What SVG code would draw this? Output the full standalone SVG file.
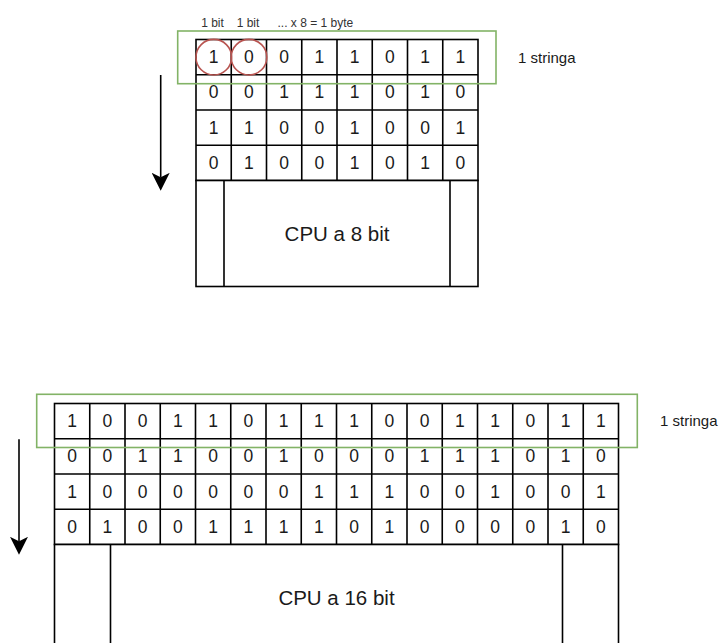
<svg xmlns="http://www.w3.org/2000/svg" width="720" height="643" viewBox="0 0 720 643">
<style>
  text { font-family: "Liberation Sans", Arial, sans-serif; fill: #1a1a1a; }
  .d { font-size: 17.5px; text-anchor: middle; dominant-baseline: central; }
  .cpu { font-size: 20.5px; text-anchor: middle; dominant-baseline: central; }
  .str { font-size: 15px; dominant-baseline: central; }
  .lbl { font-size: 12px; fill: #333; }
  .cell { fill: #fff; stroke: #000; stroke-width: 1.6; }
  .ln { stroke: #000; stroke-width: 1.6; fill: none; }
  .sel { fill: none; stroke: #82b366; stroke-width: 1.6; }
  .bit { fill: none; stroke: #b85450; stroke-width: 1.6; }
  .arr { stroke: #000; stroke-width: 1.6; fill: none; marker-end: url(#ah); }
</style>
<defs>
  <marker id="ah" markerUnits="userSpaceOnUse" markerWidth="18" markerHeight="18" viewBox="0 0 16 16" refX="4" refY="8" orient="auto">
    <path d="M0,0 L16,8 L0,16 L4,8 Z" fill="#000"/>
  </marker>
</defs>

<g id="labels-top">
  <text class="lbl" x="212.5" y="26.5" text-anchor="middle">1 bit</text>
  <text class="lbl" x="248" y="26.5" text-anchor="middle">1 bit</text>
  <text class="lbl" x="277.5" y="26.5">... x 8 = 1 byte</text>
</g>

<g id="mem8">
  <rect class="cell" x="196" y="39.5" width="282" height="141"/>
  <path class="ln" d="M231.25,39.5V180.5M266.5,39.5V180.5M301.75,39.5V180.5M337,39.5V180.5M372.25,39.5V180.5M407.5,39.5V180.5M442.75,39.5V180.5M196,74.75H478M196,110H478M196,145.25H478"/>
  <g class="row">
    <text class="d" x="213.63" y="57.13">1</text><text class="d" x="248.88" y="57.13">0</text><text class="d" x="284.13" y="57.13">0</text><text class="d" x="319.38" y="57.13">1</text><text class="d" x="354.63" y="57.13">1</text><text class="d" x="389.88" y="57.13">0</text><text class="d" x="425.13" y="57.13">1</text><text class="d" x="460.38" y="57.13">1</text>
  </g>
  <g class="row">
    <text class="d" x="213.63" y="92.38">0</text><text class="d" x="248.88" y="92.38">0</text><text class="d" x="284.13" y="92.38">1</text><text class="d" x="319.38" y="92.38">1</text><text class="d" x="354.63" y="92.38">1</text><text class="d" x="389.88" y="92.38">0</text><text class="d" x="425.13" y="92.38">1</text><text class="d" x="460.38" y="92.38">0</text>
  </g>
  <g class="row">
    <text class="d" x="213.63" y="127.63">1</text><text class="d" x="248.88" y="127.63">1</text><text class="d" x="284.13" y="127.63">0</text><text class="d" x="319.38" y="127.63">0</text><text class="d" x="354.63" y="127.63">1</text><text class="d" x="389.88" y="127.63">0</text><text class="d" x="425.13" y="127.63">0</text><text class="d" x="460.38" y="127.63">1</text>
  </g>
  <g class="row">
    <text class="d" x="213.63" y="162.88">0</text><text class="d" x="248.88" y="162.88">1</text><text class="d" x="284.13" y="162.88">0</text><text class="d" x="319.38" y="162.88">0</text><text class="d" x="354.63" y="162.88">1</text><text class="d" x="389.88" y="162.88">0</text><text class="d" x="425.13" y="162.88">1</text><text class="d" x="460.38" y="162.88">0</text>
  </g>
</g>

<g id="cpu8">
  <rect class="cell" x="196" y="180.5" width="282" height="106"/>
  <path class="ln" d="M224,180.5V286.5M450,180.5V286.5"/>
  <text class="cpu" x="337" y="233.5">CPU a 8 bit</text>
</g>

<g id="bits-highlight">
  <circle class="bit" cx="213.8" cy="57.2" r="17.8"/>
  <circle class="bit" cx="249" cy="57.2" r="17.8"/>
</g>

<g id="stringa8">
  <rect class="sel" x="177.7" y="31" width="318.3" height="52.7"/>
  <text class="str" x="518" y="57.5">1 stringa</text>
</g>

<g id="mem16">
  <rect class="cell" x="54.5" y="403.5" width="564" height="141"/>
  <path class="ln" d="M89.75,403.5V544.5M125,403.5V544.5M160.25,403.5V544.5M195.5,403.5V544.5M230.75,403.5V544.5M266,403.5V544.5M301.25,403.5V544.5M336.5,403.5V544.5M371.75,403.5V544.5M407,403.5V544.5M442.25,403.5V544.5M477.5,403.5V544.5M512.75,403.5V544.5M548,403.5V544.5M583.25,403.5V544.5M54.5,438.75H618.5M54.5,474H618.5M54.5,509.25H618.5"/>
  <g class="row">
    <text class="d" x="72.13" y="421.13">1</text><text class="d" x="107.38" y="421.13">0</text><text class="d" x="142.63" y="421.13">0</text><text class="d" x="177.88" y="421.13">1</text><text class="d" x="213.13" y="421.13">1</text><text class="d" x="248.38" y="421.13">0</text><text class="d" x="283.63" y="421.13">1</text><text class="d" x="318.88" y="421.13">1</text><text class="d" x="354.13" y="421.13">1</text><text class="d" x="389.38" y="421.13">0</text><text class="d" x="424.63" y="421.13">0</text><text class="d" x="459.88" y="421.13">1</text><text class="d" x="495.13" y="421.13">1</text><text class="d" x="530.38" y="421.13">0</text><text class="d" x="565.63" y="421.13">1</text><text class="d" x="600.88" y="421.13">1</text>
  </g>
  <g class="row">
    <text class="d" x="72.13" y="456.38">0</text><text class="d" x="107.38" y="456.38">0</text><text class="d" x="142.63" y="456.38">1</text><text class="d" x="177.88" y="456.38">1</text><text class="d" x="213.13" y="456.38">0</text><text class="d" x="248.38" y="456.38">0</text><text class="d" x="283.63" y="456.38">1</text><text class="d" x="318.88" y="456.38">0</text><text class="d" x="354.13" y="456.38">0</text><text class="d" x="389.38" y="456.38">0</text><text class="d" x="424.63" y="456.38">1</text><text class="d" x="459.88" y="456.38">1</text><text class="d" x="495.13" y="456.38">1</text><text class="d" x="530.38" y="456.38">0</text><text class="d" x="565.63" y="456.38">1</text><text class="d" x="600.88" y="456.38">0</text>
  </g>
  <g class="row">
    <text class="d" x="72.13" y="491.63">1</text><text class="d" x="107.38" y="491.63">0</text><text class="d" x="142.63" y="491.63">0</text><text class="d" x="177.88" y="491.63">0</text><text class="d" x="213.13" y="491.63">0</text><text class="d" x="248.38" y="491.63">0</text><text class="d" x="283.63" y="491.63">0</text><text class="d" x="318.88" y="491.63">1</text><text class="d" x="354.13" y="491.63">1</text><text class="d" x="389.38" y="491.63">1</text><text class="d" x="424.63" y="491.63">0</text><text class="d" x="459.88" y="491.63">0</text><text class="d" x="495.13" y="491.63">1</text><text class="d" x="530.38" y="491.63">0</text><text class="d" x="565.63" y="491.63">0</text><text class="d" x="600.88" y="491.63">1</text>
  </g>
  <g class="row">
    <text class="d" x="72.13" y="526.88">0</text><text class="d" x="107.38" y="526.88">1</text><text class="d" x="142.63" y="526.88">0</text><text class="d" x="177.88" y="526.88">0</text><text class="d" x="213.13" y="526.88">1</text><text class="d" x="248.38" y="526.88">1</text><text class="d" x="283.63" y="526.88">1</text><text class="d" x="318.88" y="526.88">1</text><text class="d" x="354.13" y="526.88">0</text><text class="d" x="389.38" y="526.88">1</text><text class="d" x="424.63" y="526.88">0</text><text class="d" x="459.88" y="526.88">0</text><text class="d" x="495.13" y="526.88">0</text><text class="d" x="530.38" y="526.88">0</text><text class="d" x="565.63" y="526.88">1</text><text class="d" x="600.88" y="526.88">0</text>
  </g>
</g>

<g id="cpu16">
  <rect class="cell" x="54.5" y="544.5" width="564" height="106"/>
  <path class="ln" d="M110.5,544.5V650.5M562.5,544.5V650.5"/>
  <text class="cpu" x="336.5" y="597">CPU a 16 bit</text>
</g>

<g id="stringa16">
  <rect class="sel" x="36.7" y="394.3" width="600.6" height="53.2"/>
  <text class="str" x="660" y="420.5">1 stringa</text>
</g>

<g id="connectors">
  <line class="arr" x1="160.7" y1="75" x2="160.7" y2="177.3"/>
  <line class="arr" x1="19" y1="439.3" x2="19" y2="541.3"/>
</g>
</svg>
